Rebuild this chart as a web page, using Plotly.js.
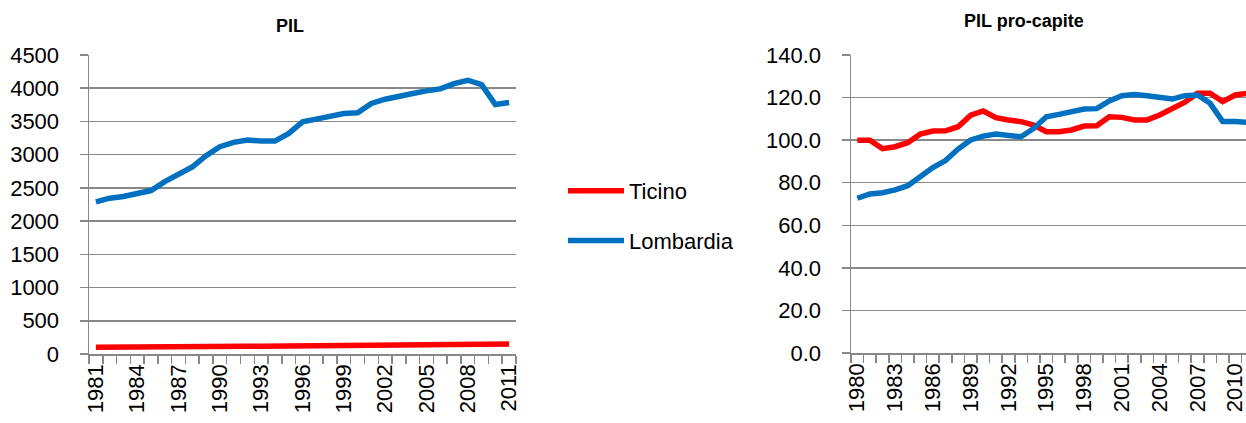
<!DOCTYPE html>
<html>
<head>
<meta charset="utf-8">
<script src="https://cdn.plot.ly/plotly-3.0.1.min.js"></script>
<style>html,body{margin:0;padding:0;background:#fff}#chart{width:1246px;height:423px}</style>
</head>
<body>
<div id="chart"></div>
<script>
// PIL (left chart)
var yearsPil = [1981,1982,1983,1984,1985,1986,1987,1988,1989,1990,1991,1992,1993,1994,1995,1996,1997,1998,1999,2000,2001,2002,2003,2004,2005,2006,2007,2008,2009,2010,2011];
var pilTicino = [100,103,100,100,102,105,107,108,110,113,115,117,115,117,118,117,115,117,118,118,120,122,122,123,125,130,135,140,145,145,150];
var pilLombardia = [2290,2345,2370,2405,2460,2595,2710,2815,2985,3120,3185,3220,3205,3205,3320,3495,3535,3570,3620,3630,3770,3835,3885,3920,3960,3990,4070,4120,4055,3755,3785];
var pilTickLabels = [1981,1984,1987,1990,1993,1996,1999,2002,2005,2008,2011];

// PIL pro-capite (right chart)
var yearsPc = [1980,1981,1982,1983,1984,1985,1986,1987,1988,1989,1990,1991,1992,1993,1994,1995,1996,1997,1998,1999,2000,2001,2002,2003,2004,2005,2006,2007,2008,2009,2010,2011];
var pcTicino = [100.0,100.0,96.0,96.9,98.8,102.9,104.3,104.4,106.3,111.7,113.7,110.6,109.5,108.7,107.1,104.0,104.0,104.8,106.6,106.8,111.0,110.7,109.5,109.5,111.8,114.6,117.8,122.0,122.0,118.1,121.2,122.0];
var pcLombardia = [72.7,74.7,75.3,76.6,78.6,82.8,87.1,90.4,95.8,100.1,101.9,102.9,102.3,101.6,105.5,111.0,112.1,113.4,114.6,114.8,118.4,120.9,121.4,120.9,120.0,119.3,120.9,121.2,117.3,108.7,108.7,108.4];
var pcTickLabels = [1980,1983,1986,1989,1992,1995,1998,2001,2004,2007,2010];

var seriesNames = ['Ticino','Lombardia'];
var RED = '#FF0000', BLUE = '#0070C0';
var GRID = '#888888';
var FONT = 'Liberation Sans, Arial, sans-serif';

var traces = [
  {x: yearsPil, y: pilTicino, name: seriesNames[0], type:'scatter', mode:'lines', line:{color:RED, width:5.5}, xaxis:'x', yaxis:'y', legendgroup:'a'},
  {x: yearsPil, y: pilLombardia, name: seriesNames[1], type:'scatter', mode:'lines', line:{color:BLUE, width:5.5}, xaxis:'x', yaxis:'y', legendgroup:'b'},
  {x: yearsPc, y: pcTicino, name: seriesNames[0], type:'scatter', mode:'lines', line:{color:RED, width:5.5}, xaxis:'x2', yaxis:'y2', showlegend:false},
  {x: yearsPc, y: pcLombardia, name: seriesNames[1], type:'scatter', mode:'lines', line:{color:BLUE, width:5.5}, xaxis:'x2', yaxis:'y2', showlegend:false}
];

function xAx(domain, range, tickvals, anchor){
  return {
    domain: domain, range: range, type:'linear', anchor: anchor,
    showgrid:false, zeroline:false,
    showline:true, linecolor:GRID, linewidth:1.5,
    tickmode:'array', tickvals: tickvals, ticktext: tickvals.map(String),
    ticks:'', tickangle:-90, ticklabeloverflow:'allow',
    tickfont:{family:FONT, size:22, color:'#000'},
    minor:{tick0: 1980.5, dtick:1, ticks:'outside', ticklen:8, tickcolor:GRID, tickwidth:1.5, showgrid:false},
    fixedrange:true
  };
}
function yAx(domain, range, dtick, fmt, anchor){
  return {
    domain: domain, range: range, dtick: dtick, tick0:0, tickformat: fmt, anchor: anchor,
    showgrid:true, gridcolor:GRID, gridwidth:1.5, zeroline:false,
    showline:true, linecolor:GRID, linewidth:1.5,
    ticks:'outside', ticklen:8, tickcolor:GRID, tickwidth:1.5,
    ticklabelstandoff: 16,
    tickfont:{family:FONT, size:22, color:'#000'},
    fixedrange:true
  };
}

var layout = {
  width:1246, height:423,
  margin:{l:0, r:0, t:0, b:0, pad:0},
  paper_bgcolor:'#fff', plot_bgcolor:'#fff',
  showlegend:true,
  legend:{x:563/1246, y:(423-170)/423, xanchor:'left', yanchor:'top',
          font:{family:FONT, size:22, color:'#000'}, tracegroupgap:18, itemwidth:56, bgcolor:'rgba(0,0,0,0)'},
  xaxis: xAx([89/1246, 516/1246], [1980.5, 2011.5], pilTickLabels, 'y'),
  yaxis: yAx([(423-354)/423, (423-55)/423], [0, 4500], 500, 'd', 'x'),
  xaxis2: xAx([851/1246, 1], [1979.5, 2010.85], pcTickLabels, 'y2'),
  yaxis2: yAx([(423-353)/423, (423-55)/423], [0, 140], 20, '.1f', 'x2'),
  annotations:[
    {text:'<b>PIL</b>', x:290/1246, y:(423-26)/423, xref:'paper', yref:'paper', xanchor:'center', yanchor:'middle', showarrow:false, font:{family:FONT, size:18, color:'#000'}},
    {text:'<b>PIL pro-capite</b>', x:1024/1246, y:(423-21)/423, xref:'paper', yref:'paper', xanchor:'center', yanchor:'middle', showarrow:false, font:{family:FONT, size:18, color:'#000'}}
  ]
};

Plotly.newPlot('chart', traces, layout, {displayModeBar:false, staticPlot:true});
</script>
</body>
</html>
